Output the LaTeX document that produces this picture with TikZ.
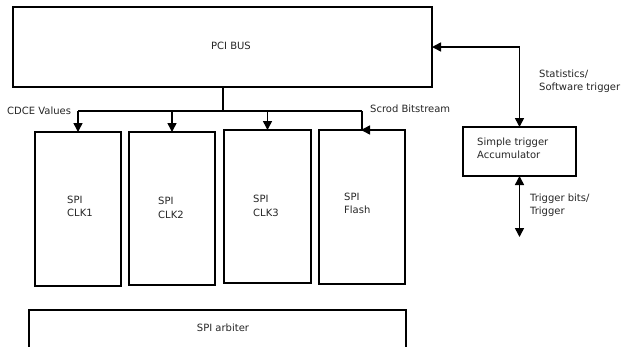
\documentclass[tikz,border=0pt]{standalone}
\usepackage{fontspec}
\setmainfont{DejaVu Sans}
\usetikzlibrary{arrows.meta}
\begin{document}
\begin{tikzpicture}[x=1pt,y=-1pt,
  box/.style={draw, line width=1.3pt, inner sep=0pt, outer sep=0pt, anchor=north west},
  lbl/.style={inner sep=0pt, align=left, text=black!85, font=\fontsize{10}{13.5}\selectfont},
  link/.style={line width=1.5pt},
  arr/.style={link, -{Triangle[length=9pt,width=9pt]}},
  arrboth/.style={link, {Triangle[length=9pt,width=9pt]}-{Triangle[length=9pt,width=9pt]}}]
  \useasboundingbox (0,0) rectangle (623,346);
  \fill[white] (0,0) rectangle (623,346);

  % blocks
  \node[box, minimum width=419pt, minimum height=80pt] (pci) at (13,7) {};
  \node[box, minimum width=86pt, minimum height=154pt] (clk1) at (35,132) {};
  \node[box, minimum width=86pt, minimum height=153pt] (clk2) at (129,132) {};
  \node[box, minimum width=87pt, minimum height=153pt] (clk3) at (224,130) {};
  \node[box, minimum width=86pt, minimum height=154pt] (flash) at (319,130) {};
  \node[box, minimum width=113pt, minimum height=49pt] (acc) at (463,127) {};
  \node[box, minimum width=377pt, minimum height=60pt] (arb) at (29,310) {};

  % block texts
  \node[lbl] (tpci) at (231,46) {PCI BUS};
  \node[lbl, anchor=west] (tclk1) at (67,206.5) {SPI\\CLK1};
  \node[lbl, anchor=west] (tclk2) at (158,208) {SPI\\CLK2};
  \node[lbl, anchor=west] (tclk3) at (253,206) {SPI\\CLK3};
  \node[lbl, anchor=west] (tflash) at (344,203.5) {SPI\\Flash};
  \node[lbl, anchor=west] (tacc) at (477,148.5) {Simple trigger\\Accumulator};
  \node[lbl] (tarb) at (223,328) {SPI arbiter};

  % connector labels
  \node[lbl, anchor=west] (tcdce) at (7,111) {CDCE Values};
  \node[lbl, anchor=west] (tscrod) at (370,109) {Scrod Bitstream};
  \node[lbl, anchor=west] (tstat) at (539,81) {Statistics/\\Software trigger};
  \node[lbl, anchor=west] (ttrig) at (530,205) {Trigger bits/\\Trigger};

  % bus distribution to the SPI blocks
  \coordinate (bus) at (223,111);
  \draw[link] (pci.south -| bus) -- (bus);
  \draw[link] (clk1.north |- bus) -- (flash.north |- bus);
  \draw[arr] (clk1.north |- bus) -- (clk1.north);
  \draw[arr] (clk2.north |- bus) -- (clk2.north);
  \draw[arr] (clk3.north |- bus) -- (clk3.north);
  \draw[arr] (flash.north |- bus) -- (flash.north) -- ++(-1,0);

  % trigger accumulator links
  \draw[arrboth] (pci.east) -| (acc.north);
  \coordinate (trigout) at (519.5,237);
  \draw[arrboth] (acc.south) -- (trigout);
\end{tikzpicture}
\end{document}
